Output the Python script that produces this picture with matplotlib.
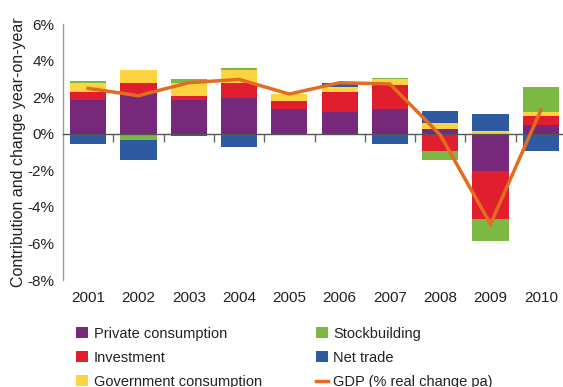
import numpy as np
import matplotlib
matplotlib.use("Agg")
import matplotlib.pyplot as plt
from matplotlib.patches import Patch
from matplotlib.lines import Line2D

plt.rcParams['font.family'] = ['Liberation Sans', 'DejaVu Sans']

years = ['2001', '2002', '2003', '2004', '2005', '2006', '2007', '2008', '2009', '2010']
private_consumption = [1.84, 2.20, 1.84, 1.95, 1.35, 1.19, 1.35, 0.26, -2.04, 0.48]
investment = [0.44, 0.57, 0.22, 0.82, 0.44, 1.09, 1.31, -0.93, -2.62, 0.48]
government_consumption = [0.49, 0.71, 0.71, 0.73, 0.38, 0.29, 0.31, 0.32, 0.15, 0.23]
stockbuilding = [0.11, -0.35, 0.22, 0.09, 0.0, 0.0, 0.08, -0.51, -1.19, 1.36]
net_trade = [-0.55, -1.07, -0.10, -0.71, 0.0, 0.20, -0.55, 0.66, 0.92, -0.93]
gdp = [2.48, 2.08, 2.79, 2.97, 2.17, 2.79, 2.72, -0.07, -4.94, 1.29]

series = [
    ('Private consumption', private_consumption, '#76287A'),
    ('Investment', investment, '#E01E2E'),
    ('Government consumption', government_consumption, '#FDD33F'),
    ('Stockbuilding', stockbuilding, '#7DB843'),
    ('Net trade', net_trade, '#2E5AA1'),
]
gdp_color = '#E36C21'
text_color = '#222222'

fig = plt.figure(figsize=(5.63, 3.87), dpi=100)
ax = fig.add_axes([63 / 563, 1 - 280 / 387, 503 / 563, 256 / 387])

x = np.arange(len(years))
pos_base = np.zeros(len(years))
neg_base = np.zeros(len(years))
for name, vals, color in series:
    v = np.array(vals, dtype=float)
    base = np.where(v >= 0, pos_base, neg_base)
    ax.bar(x, v, width=0.72, bottom=base, color=color, edgecolor='none', zorder=2)
    pos_base = pos_base + np.where(v > 0, v, 0)
    neg_base = neg_base + np.where(v < 0, v, 0)

ax.plot(x, gdp, color=gdp_color, linewidth=2.5, zorder=4, solid_joinstyle='miter')

ax.set_xlim(-0.5, len(years) - 0.5)
ax.set_ylim(-8, 6)
yt = np.arange(-8, 7, 2)
ax.set_yticks(yt)
ax.set_yticklabels([f'{v}%' for v in yt], fontsize=11, color=text_color)
ax.tick_params(axis='y', length=0, pad=6)
ax.set_ylabel('Contribution and change year-on-year', fontsize=11.5, color=text_color, labelpad=1.5)

for s in ['top', 'right']:
    ax.spines[s].set_visible(False)
ax.spines['left'].set_color('#9a9a9a')
ax.spines['left'].set_linewidth(1.0)

# zero line with category separators hanging below it
ax.spines['bottom'].set_position(('data', 0))
ax.spines['bottom'].set_color('#555555')
ax.spines['bottom'].set_linewidth(1.0)
ax.spines['bottom'].set_zorder(3)
ax.set_xticks(x)
ax.set_xticklabels([])
ax.tick_params(axis='x', which='major', length=0)
ax.set_xticks(x[:-1] + 0.5, minor=True)
ax.tick_params(axis='x', which='minor', length=6, width=1.0, color='#666666', direction='out')

sec = ax.secondary_xaxis(0.0)
sec.set_xticks(x)
sec.set_xticklabels(years, fontsize=11, color=text_color)
sec.tick_params(length=0, pad=8)
sec.spines['bottom'].set_visible(False)

handles = [Patch(facecolor=c, edgecolor='none', label=n) for n, _, c in series]
handles.append(Line2D([0], [0], color=gdp_color, linewidth=2.5, label='GDP (% real change pa)'))
fig.legend(handles=handles, ncol=2, loc='upper left', bbox_to_anchor=(0.1226, 0.175),
           frameon=False, fontsize=10.5, handlelength=0.8, handleheight=0.8,
           handletextpad=0.4, columnspacing=3.7, labelspacing=0.7, borderpad=0,
           labelcolor=text_color)

fig.savefig('out.png', dpi=100)
